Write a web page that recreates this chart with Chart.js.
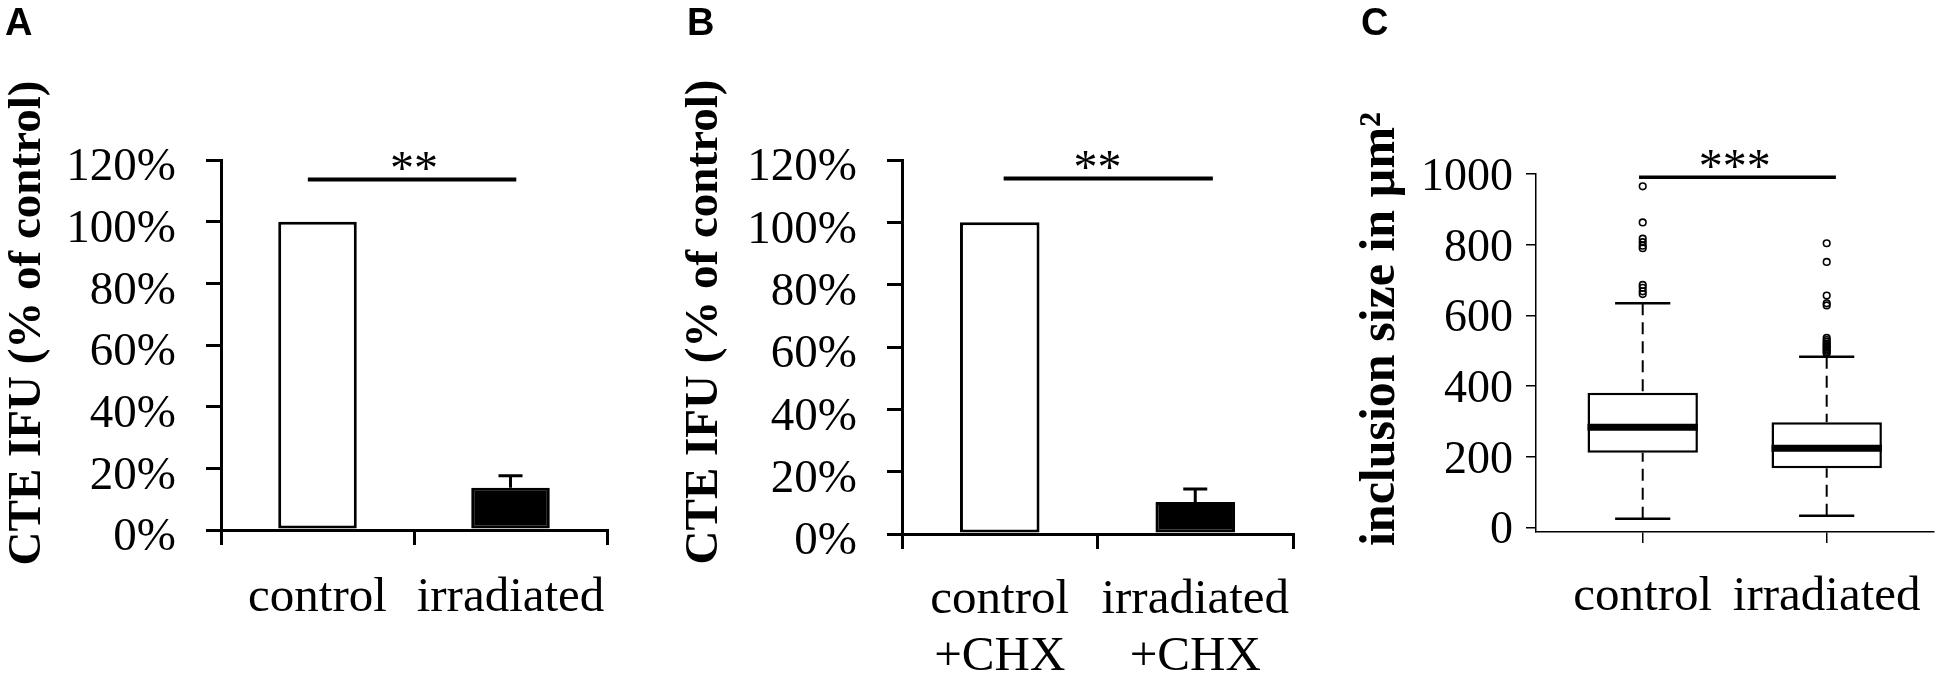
<!DOCTYPE html>
<html>
<head>
<meta charset="utf-8">
<script src="https://cdn.jsdelivr.net/npm/chart.js@4.4.1/dist/chart.umd.min.js"></script>
<style>
  html, body { margin: 0; padding: 0; background: #fff; overflow: hidden; }
  #fig { position: relative; width: 1939px; height: 677px; overflow: hidden; }
  #fig canvas { position: absolute; top: 0; }
  .tag { position: absolute; font: bold 38px/38px "Liberation Sans", Arial, sans-serif; color: #000; }
</style>
</head>
<body>
<div id="fig">
  <canvas id="chartA" width="650" height="677" style="left:0;width:650px;height:677px"></canvas>
  <canvas id="chartB" width="650" height="677" style="left:650px;width:650px;height:677px"></canvas>
  <canvas id="chartC" width="639" height="677" style="left:1300px;width:639px;height:677px"></canvas>
  <div class="tag" style="left:5px;top:3px">A</div>
  <div class="tag" style="left:687px;top:3px">B</div>
  <div class="tag" style="left:1361px;top:3px">C</div>
</div>
<script>
// --- A: infectious progeny, % of control ---
const groupsA = ["control", "irradiated"];
const meansA = [100, 13.7];
const errorsA = [0, 3.9];

// --- B: same, with cycloheximide ---
const groupsB = [["control", "+CHX"], ["irradiated", "+CHX"]];
const meansB = [100, 10.3];
const errorsB = [0, 4.1];

const percentTicks = [0, 20, 40, 60, 80, 100, 120];

// --- C: inclusion size boxplots ---
const boxGroups = ["control", "irradiated"];
const boxLow = [24, 33];
const boxQ1 = [211, 167];
const boxMedian = [283, 224];
const boxQ3 = [381, 297];
const boxHigh = [634, 483];
const outliersControl = [965, 863, 817, 807, 797, 790, 686, 678, 668, 660];
const outliersIrradiated = [804, 751, 656, 634, 628, 536, 530, 525, 520, 516, 512, 508, 504, 500, 496, 492];
const sizeTicks = [0, 200, 400, 600, 800, 1000];

const SERIF = "'Liberation Serif', 'Times New Roman', serif";

Chart.defaults.font.family = SERIF;
Chart.defaults.color = "#000";
Chart.defaults.animation = false;

// rotated y title, drawn where the original sits (not centred on the axis)
function yTitle(text, cx, cy, font) {
  return {
    id: "yTitle",
    afterDraw(chart) {
      const ctx = chart.ctx;
      ctx.save();
      ctx.translate(cx, cy);
      ctx.rotate(-Math.PI / 2);
      ctx.font = font;
      ctx.fillStyle = "#000";
      ctx.textAlign = "center";
      ctx.textBaseline = "middle";
      ctx.fillText(text, 0, 0);
      ctx.restore();
    }
  };
}

// significance bar, stars centred between the two groups
function sigBar(from, to, level, starsAt, stars, width) {
  return {
    id: "sigBar",
    afterDraw(chart) {
      const { ctx, scales: { x, y } } = chart;
      const py = y.getPixelForValue(level);
      ctx.save();
      ctx.strokeStyle = "#000";
      ctx.lineWidth = width;
      ctx.beginPath();
      ctx.moveTo(x.getPixelForValue(from), py);
      ctx.lineTo(x.getPixelForValue(to), py);
      ctx.stroke();
      ctx.font = "48px " + SERIF;
      ctx.fillStyle = "#000";
      ctx.textAlign = "center";
      ctx.textBaseline = "alphabetic";
      ctx.fillText(stars, x.getPixelForValue(starsAt), py + 5);
      ctx.restore();
    }
  };
}

function errorBars(means, errors) {
  return {
    id: "errorBars",
    afterDatasetsDraw(chart) {
      const { ctx, scales: { y } } = chart;
      const bars = chart.getDatasetMeta(0).data;
      ctx.save();
      ctx.strokeStyle = "#000";
      ctx.lineWidth = 3;
      means.forEach((m, i) => {
        if (!errors[i]) return;
        const px = bars[i].x;
        const y0 = y.getPixelForValue(m);
        const y1 = y.getPixelForValue(m + errors[i]);
        ctx.beginPath();
        ctx.moveTo(px, y0);
        ctx.lineTo(px, y1);
        ctx.moveTo(px - 12, y1);
        ctx.lineTo(px + 12, y1);
        ctx.stroke();
      });
      ctx.restore();
    }
  };
}

// fixed axis band so the plot area lands where the original has it
function fixHeight(h) {
  return s => { s.height = h; s.paddingLeft = 0; s.paddingRight = 0; };
}

function barPanel(id, groups, means, errors, g) {
  new Chart(document.getElementById(id), {
    type: "bar",
    data: {
      labels: groups,
      datasets: [{
        data: means,
        backgroundColor: ["#fff", "#000"],
        borderColor: "#000",
        borderWidth: 3,
        borderSkipped: false,
        categoryPercentage: 1,
        barPercentage: 0.407
      }]
    },
    options: {
      responsive: false,
      layout: { padding: { top: g.top, right: g.right, left: 0, bottom: 0 } },
      plugins: { legend: { display: false }, tooltip: { enabled: false } },
      scales: {
        x: {
          grid: { drawOnChartArea: false, tickLength: 15, lineWidth: 3, color: "#000" },
          border: { color: "#000", width: 3 },
          ticks: { font: { family: SERIF, size: 49, lineHeight: 1.17 }, padding: g.xPad, maxRotation: 0, autoSkip: false },
          afterFit: fixHeight(g.xHeight)
        },
        y: {
          min: 0,
          max: 120,
          afterBuildTicks: s => { s.ticks = percentTicks.map(v => ({ value: v })); },
          grid: { drawOnChartArea: false, tickLength: 15, lineWidth: 3, color: "#000" },
          border: { color: "#000", width: 3 },
          ticks: { font: { family: SERIF, size: 47 }, padding: 30, labelOffset: 8, callback: v => v + "%" },
          afterFit: s => { s.width = g.yWidth; }
        }
      }
    },
    plugins: [
      errorBars(means, errors),
      sigBar(g.sig[0], g.sig[1], g.sigLevel, 0.5, "**", 4),
      yTitle("CTE IFU (% of control)", g.titleX, g.titleY, "bold 47px " + SERIF)
    ]
  });
}

barPanel("chartA", groupsA, meansA, errorsA, {
  top: 160, right: 43, yWidth: 221, xHeight: 147, xPad: 24,
  sig: [-0.05, 1.03], sigLevel: 113.7, titleX: 28, titleY: 323
});

barPanel("chartB", groupsB, meansB, errorsB, {
  top: 160, right: 7, yWidth: 252, xHeight: 143, xPad: 22,
  sig: [0.02, 1.09], sigLevel: 114.1, titleX: 55, titleY: 322
});

// median, whiskers and caps on top of the floating-bar boxes
const boxExtras = {
  id: "boxExtras",
  afterDatasetsDraw(chart) {
    const { ctx, scales: { y } } = chart;
    const boxes = chart.getDatasetMeta(0).data;
    ctx.save();
    ctx.strokeStyle = "#000";
    boxes.forEach((b, i) => {
      const half = b.width / 2, cap = b.width / 4;
      const pMed = y.getPixelForValue(boxMedian[i]);
      ctx.setLineDash([]);
      ctx.lineWidth = 7;
      ctx.beginPath();
      ctx.moveTo(b.x - half, pMed);
      ctx.lineTo(b.x + half, pMed);
      ctx.stroke();

      const pHi = y.getPixelForValue(boxHigh[i]);
      const pLo = y.getPixelForValue(boxLow[i]);
      ctx.lineWidth = 2;
      ctx.setLineDash([12, 7]);
      ctx.beginPath();
      ctx.moveTo(b.x, pHi);
      ctx.lineTo(b.x, y.getPixelForValue(boxQ3[i]));
      ctx.stroke();
      ctx.beginPath();
      ctx.moveTo(b.x, pLo);
      ctx.lineTo(b.x, y.getPixelForValue(boxQ1[i]));
      ctx.stroke();

      ctx.setLineDash([]);
      ctx.lineWidth = 2.5;
      ctx.beginPath();
      ctx.moveTo(b.x - cap, pHi);
      ctx.lineTo(b.x + cap, pHi);
      ctx.moveTo(b.x - cap, pLo);
      ctx.lineTo(b.x + cap, pLo);
      ctx.stroke();
    });
    ctx.restore();
  }
};

new Chart(document.getElementById("chartC"), {
  type: "bar",
  data: {
    datasets: [
      {
        type: "bar",
        data: boxGroups.map((_, i) => ({ x: i + 1, y: [boxQ1[i], boxQ3[i]] })),
        backgroundColor: "#fff",
        borderColor: "#000",
        borderWidth: 2.5,
        borderSkipped: false,
        categoryPercentage: 1,
        barPercentage: 0.6
      },
      {
        type: "scatter",
        data: outliersControl.map(v => ({ x: 1, y: v }))
          .concat(outliersIrradiated.map(v => ({ x: 2, y: v }))),
        pointRadius: 3.3,
        pointBorderWidth: 1.6,
        pointBackgroundColor: "rgba(0,0,0,0)",
        pointBorderColor: "#000"
      }
    ]
  },
  options: {
    responsive: false,
    layout: { padding: { top: 174, right: 4, left: 0, bottom: 0 } },
    plugins: { legend: { display: false }, tooltip: { enabled: false } },
    scales: {
      x: {
        type: "linear",
        min: 0.42,
        max: 2.58,
        offset: false,
        afterBuildTicks: s => { s.ticks = boxGroups.map((_, i) => ({ value: i + 1 })); },
        grid: { offset: false, drawOnChartArea: false, tickLength: 11, lineWidth: 1.5, color: "#000" },
        border: { color: "#000", width: 1.5 },
        ticks: { font: { family: SERIF, size: 49 }, padding: 25, maxRotation: 0, autoSkip: false,
                 callback: (v, i) => boxGroups[i] },
        afterFit: fixHeight(145)
      },
      y: {
        min: -13.3,
        max: 1000,
        afterBuildTicks: s => { s.ticks = sizeTicks.map(v => ({ value: v })); },
        grid: { drawOnChartArea: false, tickLength: 10, lineWidth: 1.5, color: "#000" },
        border: { color: "#000", width: 1.5 },
        ticks: { font: { family: SERIF, size: 46 }, padding: 13, labelOffset: 4, callback: v => String(v) },
        afterFit: s => { s.width = 236; }
      }
    }
  },
  plugins: [
    boxExtras,
    sigBar(0.98, 2.05, 990.6, 1.5, "***", 3.5),
    yTitle("inclusion size in \u00b5m\u00b2", 81, 329, "bold 50px " + SERIF)
  ]
});
</script>
</body>
</html>
